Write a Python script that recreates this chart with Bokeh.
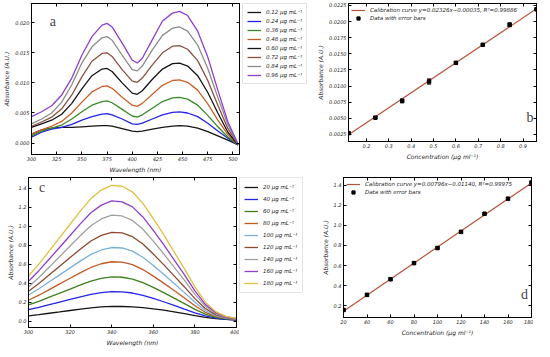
from bokeh.plotting import figure
from bokeh.layouts import row, column
from bokeh.models import (Legend, LegendItem, LinearAxis, FixedTicker, PrintfTickFormatter,
                          Label, Whisker, TeeHead, ColumnDataSource, Range1d)
from bokeh.embed import file_html
from bokeh.resources import INLINE

FONT = "DejaVu Sans"

# ---------------- Panel a : spectra (low concentrations) ----------------
wl_a = [300, 310, 320, 330, 340, 350, 360, 370, 375, 380, 390, 400, 405, 410,
        420, 430, 440, 447, 455, 465, 475, 485, 495, 505]
a_012 = [0.0015, 0.0022, 0.0025, 0.0026, 0.0026, 0.0027, 0.0028, 0.0029, 0.0029, 0.0028, 0.0024, 0.0020,
         0.0019, 0.0020, 0.0023, 0.0026, 0.0028, 0.0029, 0.0028, 0.0025, 0.0019, 0.0012, 0.0005, -0.0003]
a_024 = [0.0010, 0.0018, 0.0023, 0.0026, 0.0031, 0.0038, 0.0044, 0.0048, 0.0049, 0.0047, 0.0040, 0.0032,
         0.0031, 0.0033, 0.0040, 0.0047, 0.0051, 0.0052, 0.0050, 0.0044, 0.0033, 0.0020, 0.0008, -0.0003]
a_036 = [0.0012, 0.0020, 0.0025, 0.0030, 0.0040, 0.0052, 0.0063, 0.0069, 0.0070, 0.0067, 0.0056, 0.0045,
         0.0043, 0.0047, 0.0058, 0.0069, 0.0075, 0.0076, 0.0073, 0.0063, 0.0046, 0.0027, 0.0010, -0.0003]
a_048 = [0.0015, 0.0022, 0.0028, 0.0036, 0.0050, 0.0068, 0.0085, 0.0094, 0.0095, 0.0091, 0.0076, 0.0063,
         0.0061, 0.0066, 0.0081, 0.0096, 0.0104, 0.0105, 0.0101, 0.0088, 0.0065, 0.0038, 0.0014, -0.0003]
a_060 = [0.0026, 0.0032, 0.0038, 0.0048, 0.0066, 0.0090, 0.0112, 0.0123, 0.0124, 0.0119, 0.0100, 0.0083,
         0.0081, 0.0087, 0.0106, 0.0123, 0.0132, 0.0133, 0.0128, 0.0112, 0.0084, 0.0050, 0.0018, -0.0003]
a_072 = [0.0028, 0.0035, 0.0043, 0.0057, 0.0080, 0.0110, 0.0136, 0.0149, 0.0150, 0.0144, 0.0122, 0.0103,
         0.0101, 0.0108, 0.0130, 0.0150, 0.0161, 0.0162, 0.0156, 0.0137, 0.0104, 0.0063, 0.0024, -0.0002]
a_084 = [0.0032, 0.0040, 0.0050, 0.0068, 0.0097, 0.0133, 0.0160, 0.0175, 0.0177, 0.0171, 0.0146, 0.0122,
         0.0120, 0.0128, 0.0155, 0.0179, 0.0191, 0.0193, 0.0186, 0.0163, 0.0124, 0.0076, 0.0030, -0.0002]
a_096 = [0.0044, 0.0052, 0.0062, 0.0080, 0.0108, 0.0146, 0.0177, 0.0196, 0.0199, 0.0193, 0.0166, 0.0138,
         0.0133, 0.0141, 0.0172, 0.0203, 0.0216, 0.0219, 0.0212, 0.0186, 0.0143, 0.0088, 0.0035, -0.0001]
a_series = [a_012, a_024, a_036, a_048, a_060, a_072, a_084, a_096]
a_labels = ["0.12 μg mL⁻¹", "0.24 μg mL⁻¹", "0.36 μg mL⁻¹", "0.48 μg mL⁻¹",
            "0.60 μg mL⁻¹", "0.72 μg mL⁻¹", "0.84 μg mL⁻¹", "0.96 μg mL⁻¹"]
a_colors = ["#151515", "#2424e8", "#3a8a2a", "#c8602a", "#151515", "#8a5040", "#8c8c8c", "#9040d0"]
a_xticks = [300, 325, 350, 375, 400, 425, 450, 475, 500]
a_yticks = [0.0, 0.005, 0.010, 0.015, 0.020]

# ---------------- Panel b : calibration (low) ----------------
b_conc = [0.12, 0.24, 0.36, 0.48, 0.60, 0.72, 0.84, 0.96]
b_abs = [0.0027, 0.0051, 0.0077, 0.0107, 0.0136, 0.0164, 0.0195, 0.0219]
b_err = [0.0002, 0.0001, 0.0003, 0.0004, 0.0002, 0.0001, 0.0003, 0.0001]
b_slope, b_intercept = 0.02326, -0.00035
b_fit_label = "Calibration curve y=0.02326x−0.00035, R²=0.99886"
b_xticks = [0.2, 0.3, 0.4, 0.5, 0.6, 0.7, 0.8, 0.9]
b_yticks = [0.0025, 0.0050, 0.0075, 0.0100, 0.0125, 0.0150, 0.0175, 0.0200, 0.0225]

# ---------------- Panel c : spectra (high) ----------------
wl_c = [300, 305, 310, 315, 320, 325, 330, 335, 340, 345, 350, 355, 360, 365, 370, 375, 380, 385, 390, 395, 400]
c_20 = [0.055, 0.068, 0.083, 0.097, 0.112, 0.127, 0.140, 0.150, 0.155, 0.154, 0.150, 0.142, 0.130, 0.115,
        0.098, 0.078, 0.058, 0.040, 0.027, 0.018, 0.012]
c_40 = [0.120, 0.145, 0.173, 0.201, 0.228, 0.256, 0.282, 0.300, 0.310, 0.308, 0.296, 0.272, 0.240, 0.204,
        0.166, 0.126, 0.088, 0.055, 0.032, 0.020, 0.014]
c_60 = [0.170, 0.209, 0.252, 0.295, 0.338, 0.382, 0.422, 0.450, 0.465, 0.462, 0.443, 0.405, 0.355, 0.300,
        0.242, 0.184, 0.124, 0.073, 0.040, 0.024, 0.016]
c_80 = [0.220, 0.273, 0.332, 0.392, 0.451, 0.510, 0.565, 0.604, 0.625, 0.621, 0.595, 0.543, 0.474, 0.400,
        0.322, 0.244, 0.162, 0.093, 0.050, 0.028, 0.018]
c_100 = [0.275, 0.341, 0.414, 0.487, 0.561, 0.634, 0.702, 0.749, 0.775, 0.770, 0.737, 0.672, 0.586, 0.494,
         0.397, 0.300, 0.198, 0.112, 0.058, 0.032, 0.020]
c_120 = [0.315, 0.396, 0.487, 0.578, 0.669, 0.760, 0.844, 0.903, 0.935, 0.929, 0.889, 0.811, 0.706, 0.595,
         0.477, 0.360, 0.237, 0.133, 0.068, 0.036, 0.022]
c_140 = [0.360, 0.459, 0.569, 0.680, 0.791, 0.901, 1.004, 1.076, 1.115, 1.107, 1.060, 0.967, 0.842, 0.709,
         0.569, 0.429, 0.281, 0.158, 0.080, 0.042, 0.025]
c_160 = [0.420, 0.531, 0.654, 0.778, 0.902, 1.026, 1.141, 1.221, 1.265, 1.256, 1.203, 1.097, 0.955, 0.805,
         0.645, 0.487, 0.319, 0.177, 0.090, 0.046, 0.027]
c_180 = [0.475, 0.600, 0.740, 0.880, 1.020, 1.160, 1.290, 1.380, 1.430, 1.420, 1.360, 1.240, 1.080, 0.910,
         0.730, 0.550, 0.360, 0.200, 0.100, 0.050, 0.030]
c_series = [c_20, c_40, c_60, c_80, c_100, c_120, c_140, c_160, c_180]
c_labels = ["20 μg mL⁻¹", "40 μg mL⁻¹", "60 μg mL⁻¹", "80 μg mL⁻¹", "100 μg mL⁻¹",
            "120 μg mL⁻¹", "140 μg mL⁻¹", "160 μg mL⁻¹", "180 μg mL⁻¹"]
c_colors = ["#151515", "#2424e8", "#3f7f1f", "#c05a25", "#7ab0d8", "#8b4a30", "#a0a0a0", "#9040c8", "#e0c040"]
c_xticks = [300, 320, 340, 360, 380, 400]
c_yticks = [0.0, 0.2, 0.4, 0.6, 0.8, 1.0, 1.2, 1.4]

# ---------------- Panel d : calibration (high) ----------------
d_conc = [20, 40, 60, 80, 100, 120, 140, 160, 180]
d_abs = [0.160, 0.310, 0.465, 0.625, 0.775, 0.935, 1.115, 1.265, 1.425]
d_err = [0.010, 0.012, 0.010, 0.010, 0.012, 0.012, 0.010, 0.010, 0.012]
d_slope, d_intercept = 0.00796, -0.01140
d_fit_label = "Calibration curve y=0.00796x−0.01140, R²=0.99975"
d_xticks = [20, 40, 60, 80, 100, 120, 140, 160, 180]
d_yticks = [0.2, 0.4, 0.6, 0.8, 1.0, 1.2, 1.4]

FIT_COLOR = "#b8523a"


def tick_only_axis(ticks):
    return LinearAxis(ticker=FixedTicker(ticks=ticks), formatter=PrintfTickFormatter(format=""),
                      major_tick_in=3, major_tick_out=0, minor_tick_line_color=None,
                      major_label_standoff=0, axis_line_color="black")


def make_fig(fw, fh, L, R, T, B, xr, yr, xticks, yticks, xfmt, yfmt, xlabel, ylabel):
    p = figure(frame_width=fw, frame_height=fh, x_range=Range1d(*xr), y_range=Range1d(*yr),
               min_border_left=L, min_border_right=R, min_border_top=T, min_border_bottom=B,
               output_backend="svg", toolbar_location=None)
    p.grid.visible = False
    p.outline_line_color = "black"
    p.outline_line_alpha = 1.0
    p.xaxis.ticker = FixedTicker(ticks=xticks)
    p.yaxis.ticker = FixedTicker(ticks=yticks)
    p.xaxis.formatter = PrintfTickFormatter(format=xfmt)
    p.yaxis.formatter = PrintfTickFormatter(format=yfmt)
    p.xaxis.axis_label = xlabel
    p.yaxis.axis_label = ylabel
    for ax in (p.xaxis[0], p.yaxis[0]):
        ax.major_tick_in = 3
        ax.major_tick_out = 0
        ax.minor_tick_line_color = None
        ax.axis_line_color = "black"
        ax.major_label_text_font = FONT
        ax.major_label_text_font_size = "5px"
        ax.major_label_text_font_style = "italic"
        ax.major_label_text_color = "#222222"
        ax.major_label_standoff = 2
        ax.axis_label_text_font = FONT
        ax.axis_label_text_font_size = "6px"
        ax.axis_label_text_font_style = "italic"
        ax.axis_label_text_color = "#222222"
        ax.axis_label_standoff = 2
    p.add_layout(tick_only_axis(xticks), "above")
    p.add_layout(tick_only_axis(yticks), "right")
    return p


def legend_fig(fw, fh, T, B, xs, series, colors, labels, glyph_h, spacing):
    q = figure(frame_width=fw, frame_height=fh, x_range=Range1d(-1, 0), y_range=Range1d(0, 1),
               min_border_left=0, min_border_right=0, min_border_top=T, min_border_bottom=B,
               x_axis_location=None, y_axis_location=None,
               output_backend="svg", toolbar_location=None)
    q.grid.visible = False
    q.outline_line_color = None
    rs = [q.line(xs, s, line_color=c, line_width=1.3) for s, c in zip(series, colors)]
    leg = Legend(items=[LegendItem(label=l, renderers=[r]) for l, r in zip(labels, rs)],
                 location="top_left", margin=0, padding=4, spacing=spacing,
                 glyph_width=14, glyph_height=glyph_h, label_height=glyph_h, label_standoff=5,
                 label_text_font=FONT, label_text_font_size="5.5px", label_text_font_style="italic",
                 label_text_color="#222222", border_line_color="#cccccc", border_line_width=1,
                 background_fill_color="white")
    q.add_layout(leg, "center")
    return q


def calib_legend(p, line_r, pt_r, label):
    leg = Legend(items=[LegendItem(label=label, renderers=[line_r]),
                        LegendItem(label="Data with error bars", renderers=[pt_r])],
                 location="top_left", margin=3, padding=2, spacing=0,
                 glyph_width=14, glyph_height=8, label_height=8, label_standoff=5,
                 label_text_font=FONT, label_text_font_size="5.5px", label_text_font_style="italic",
                 label_text_color="#222222", border_line_color=None, background_fill_alpha=0)
    p.add_layout(leg, "center")


def calib_points(p, conc, absv, err):
    src = ColumnDataSource(dict(x=conc, y=absv,
                                lo=[v - e for v, e in zip(absv, err)],
                                hi=[v + e for v, e in zip(absv, err)]))
    p.add_layout(Whisker(source=src, base="x", lower="lo", upper="hi", line_color="black", line_width=1,
                         lower_head=TeeHead(size=4, line_color="black"),
                         upper_head=TeeHead(size=4, line_color="black")))
    return p.scatter("x", "y", source=src, marker="square", size=3.5, color="black")


# ---- a ----
pa = make_fig(208, 151, 28, 3, 1, 17, (300, 506.5), (-0.0019, 0.0232), a_xticks, a_yticks,
              "%d", "%.3f", "Wavelength (nm)", "Absorbance (A.U.)")
for s, c in zip(a_series, a_colors):
    pa.line(wl_a, s, line_color=c, line_width=1.3)
pa.add_layout(Label(x=318, y=0.0190, text="a", text_font="Liberation Serif", text_font_size="14px"))
la = legend_fig(72, 151, 1, 17, wl_a, a_series, a_colors, a_labels, 8, 1)

# ---- b ----
pb = make_fig(188, 138, 32, 2, 3, 28, (0.12, 0.96), (0.0014, 0.0228), b_xticks, b_yticks,
              "%.1f", "%.4f", "Concentration (μg ml⁻¹)", "Absorbance (A.U.)")
bx = [b_conc[0], b_conc[-1]]
lb = pb.line(bx, [b_slope * x + b_intercept for x in bx], line_color=FIT_COLOR, line_width=1.2)
sb = calib_points(pb, b_conc, b_abs, b_err)
calib_legend(pb, lb, sb, b_fit_label)
pb.add_layout(Label(x=0.915, y=0.0040, text="b", text_font="Liberation Serif", text_font_size="14px"))

# ---- c ----
pc = make_fig(208, 150, 28, 3, 4, 18, (300, 400), (-0.067, 1.512), c_xticks, c_yticks,
              "%d", "%.1f", "Wavelength (nm)", "Absorbance (A.U.)")
for s, c in zip(c_series, c_colors):
    pc.line(wl_c, s, line_color=c, line_width=1.3)
pc.add_layout(Label(x=305, y=1.33, text="c", text_font="Liberation Serif", text_font_size="14px"))
lc = legend_fig(72, 150, 4, 18, wl_c, c_series, c_colors, c_labels, 10, 2)

# ---- d ----
pd_ = make_fig(188, 140, 32, 2, 4, 28, (20, 180), (0.085, 1.475), d_xticks, d_yticks,
               "%d", "%.1f", "Concentration (μg ml⁻¹)", "Absorbance (A.U.)")
dx = [d_conc[0], d_conc[-1]]
ld = pd_.line(dx, [d_slope * x + d_intercept for x in dx], line_color=FIT_COLOR, line_width=1.2)
sd = calib_points(pd_, d_conc, d_abs, d_err)
calib_legend(pd_, ld, sd, d_fit_label)
pd_.add_layout(Label(x=171, y=0.24, text="d", text_font="Liberation Serif", text_font_size="14px"))

layout = column(row(pa, la, pb), row(pc, lc, pd_))
open("out.html", "w").write(file_html(layout, INLINE))
